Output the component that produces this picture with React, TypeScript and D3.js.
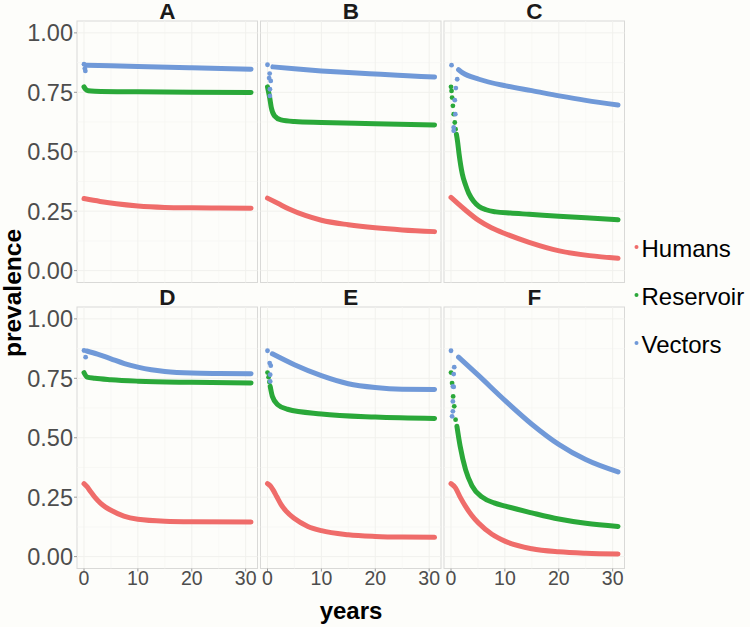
import React from "react";
import * as d3 from "d3";

type P = [number, number];

const panelLabels = ["A", "B", "C", "D", "E", "F"];
const seriesNames = ["Humans", "Reservoir", "Vectors"];
const seriesColors = ["#EF6C6A", "#2AA839", "#7099D8"];
const yTicks = [0, 0.25, 0.5, 0.75, 1];
const yTickLabels = ["0.00", "0.25", "0.50", "0.75", "1.00"];
const yMinor = [0.125, 0.375, 0.625, 0.875];
const xTicks = [0, 10, 20, 30];
const xMinor = [5, 15, 25];

// Panel A
const humansA: P[] = [[0, 0.303], [3, 0.291], [6, 0.281], [10, 0.272], [15, 0.266], [20, 0.264], [25, 0.263], [31, 0.262]];
const reservoirA: P[] = [[0, 0.773], [0.3, 0.763], [0.8, 0.757], [2, 0.755], [10, 0.752], [20, 0.75], [31, 0.749]];
const reservoirADots: P[] = [];
const vectorsA: P[] = [[0.4, 0.864], [5, 0.862], [10, 0.859], [20, 0.853], [31, 0.847]];
const vectorsADots: P[] = [[0, 0.868], [0.15, 0.85], [0.25, 0.84]];

// Panel B
const humansB: P[] = [[0, 0.305], [2, 0.282], [4, 0.259], [7, 0.232], [10, 0.212], [15, 0.193], [20, 0.18], [25, 0.171], [31, 0.164]];
const reservoirB: P[] = [[0, 0.773], [0.4, 0.728], [0.7, 0.686], [1.3, 0.651], [2.5, 0.634], [5, 0.627], [10, 0.623], [20, 0.618], [31, 0.613]];
const reservoirBDots: P[] = [];
const vectorsB: P[] = [[1.0, 0.857], [5, 0.849], [10, 0.84], [15, 0.833], [21, 0.826], [26, 0.82], [31, 0.814]];
const vectorsBDots: P[] = [[0, 0.866], [0.4, 0.829], [0.3, 0.81], [0.6, 0.798], [0.45, 0.763], [0.45, 0.735]];

// Panel C
const humansC: P[] = [[0, 0.308], [2.5, 0.258], [5.2, 0.21], [7.5, 0.18], [10.2, 0.154], [14.5, 0.119], [20.1, 0.083], [25.7, 0.063], [31, 0.052]];
const reservoirC: P[] = [[1.0, 0.574], [1.2, 0.546], [1.5, 0.49], [2.1, 0.406], [2.7, 0.36], [3.3, 0.325], [4.2, 0.292], [5.2, 0.27], [6.5, 0.256], [8.3, 0.247], [11, 0.242], [14.5, 0.237], [20, 0.229], [25, 0.222], [31, 0.214]];
const reservoirCDots: P[] = [[0, 0.773], [0.1, 0.756], [0.2, 0.728], [0.35, 0.693], [0.5, 0.658], [0.7, 0.623], [0.85, 0.595]];
const vectorsC: P[] = [[1.4, 0.845], [2.1, 0.833], [5.2, 0.805], [10.2, 0.777], [15, 0.757], [20.1, 0.735], [25, 0.716], [31, 0.697]];
const vectorsCDots: P[] = [[0.1, 0.864], [1.15, 0.805], [0.9, 0.768], [0.7, 0.717], [0.8, 0.658], [0.5, 0.602], [0.5, 0.588]];

// Panel D
const humansD: P[] = [[0, 0.307], [0.6, 0.293], [1.2, 0.274], [2, 0.25], [3.1, 0.224], [4, 0.208], [5, 0.195], [7.4, 0.17], [10, 0.157], [15, 0.149], [20, 0.147], [31, 0.146]];
const reservoirD: P[] = [[0, 0.774], [0.6, 0.755], [2, 0.75], [5, 0.744], [10, 0.738], [20, 0.733], [31, 0.73]];
const reservoirDDots: P[] = [];
const vectorsD: P[] = [[0.5, 0.865], [2.5, 0.852], [5, 0.832], [7.5, 0.812], [10, 0.797], [12.5, 0.786], [15, 0.779], [20, 0.772], [25, 0.77], [31, 0.769]];
const vectorsDDots: P[] = [[0, 0.867], [0.3, 0.839]];

// Panel E
const humansE: P[] = [[0, 0.307], [0.5, 0.298], [1, 0.282], [1.7, 0.253], [2.5, 0.22], [3.5, 0.19], [5, 0.16], [7.5, 0.127], [10, 0.109], [15, 0.092], [20, 0.085], [25, 0.082], [31, 0.081]];
const reservoirE: P[] = [[0.5, 0.716], [0.9, 0.674], [1.9, 0.639], [3.7, 0.62], [10, 0.6], [20, 0.587], [31, 0.581]];
const reservoirEDots: P[] = [[0, 0.774], [0.2, 0.755], [0.35, 0.735]];
const vectorsE: P[] = [[0.9, 0.853], [5, 0.807], [10, 0.761], [15, 0.727], [20, 0.711], [25, 0.704], [31, 0.703]];
const vectorsEDots: P[] = [[0, 0.866], [0.4, 0.814], [0.6, 0.803], [0.5, 0.765], [0.5, 0.737]];

// Panel F
const humansF: P[] = [[0, 0.307], [0.8, 0.29], [1.7, 0.25], [2.7, 0.211], [3.8, 0.175], [5.1, 0.141], [7.6, 0.094], [10.1, 0.064], [15, 0.033], [20, 0.02], [25, 0.014], [31, 0.011]];
const reservoirF: P[] = [[1.1, 0.548], [1.7, 0.464], [2.7, 0.366], [3.9, 0.298], [5.8, 0.25], [8, 0.226], [10.1, 0.212], [15, 0.184], [20, 0.158], [25, 0.14], [31, 0.127]];
const reservoirFDots: P[] = [[0, 0.774], [0.2, 0.73], [0.4, 0.674], [0.6, 0.632], [0.85, 0.576]];
const vectorsF: P[] = [[1.4, 0.839], [5.1, 0.762], [10.1, 0.655], [15, 0.557], [20, 0.472], [25, 0.408], [31, 0.356]];
const vectorsFDots: P[] = [[0, 0.866], [0.6, 0.797], [0.5, 0.768], [0.35, 0.716], [0.5, 0.714], [0.35, 0.653], [0.35, 0.611], [0.2, 0.59]];

const lines = [
  [humansA, reservoirA, vectorsA],
  [humansB, reservoirB, vectorsB],
  [humansC, reservoirC, vectorsC],
  [humansD, reservoirD, vectorsD],
  [humansE, reservoirE, vectorsE],
  [humansF, reservoirF, vectorsF],
];
const dots = [
  [[], reservoirADots, vectorsADots],
  [[], reservoirBDots, vectorsBDots],
  [[], reservoirCDots, vectorsCDots],
  [[], reservoirDDots, vectorsDDots],
  [[], reservoirEDots, vectorsEDots],
  [[], reservoirFDots, vectorsFDots],
] as P[][][];

const W = 750;
const H = 627;
const panelW = 180.5;
const panelH = 261.5;
const colLeft = [77, 260.5, 444];
const rowTop = [21, 307];
const FONT = "'Liberation Sans', Arial, Helvetica, sans-serif";

export default function App() {
  const panels = panelLabels.map((label, i) => {
    const col = i % 3;
    const row = Math.floor(i / 3);
    const left = colLeft[col];
    const top = rowTop[row];
    const x = d3.scaleLinear().domain([-1.3, 32.2]).range([left, left + panelW]);
    const y = d3.scaleLinear().domain([-0.05, 1.05]).range([top + panelH, top]);
    const line = d3
      .line<P>()
      .x((d) => x(d[0]))
      .y((d) => y(d[1]))
      .curve(d3.curveMonotoneX);
    return (
      <g key={label}>
        <rect x={left} y={top} width={panelW} height={panelH} fill="#FDFDFA" stroke="#D9D9D7" strokeWidth={1} />
        {yMinor.map((v) => (
          <line key={"ym" + v} x1={left} x2={left + panelW} y1={y(v)} y2={y(v)} stroke="#F7F7F3" strokeWidth={0.7} />
        ))}
        {xMinor.map((v) => (
          <line key={"xm" + v} x1={x(v)} x2={x(v)} y1={top} y2={top + panelH} stroke="#F7F7F3" strokeWidth={0.7} />
        ))}
        {yTicks.map((v) => (
          <line key={"yg" + v} x1={left} x2={left + panelW} y1={y(v)} y2={y(v)} stroke="#F1F1ED" strokeWidth={1} />
        ))}
        {xTicks.map((v) => (
          <line key={"xg" + v} x1={x(v)} x2={x(v)} y1={top} y2={top + panelH} stroke="#F1F1ED" strokeWidth={1} />
        ))}
        {lines[i].map((data, s) => (
          <path
            key={"l" + s}
            d={line(data) || ""}
            fill="none"
            stroke={seriesColors[s]}
            strokeWidth={5}
            strokeLinecap="round"
            strokeLinejoin="round"
          />
        ))}
        {dots[i].map((data, s) =>
          data.map((d, k) => (
            <circle key={"d" + s + "-" + k} cx={x(d[0])} cy={y(d[1])} r={2.4} fill={seriesColors[s]} />
          ))
        )}
        <text
          x={left + panelW / 2}
          y={row === 0 ? 18.5 : 304.5}
          textAnchor="middle"
          fontFamily={FONT}
          fontWeight="bold"
          fontSize={22.5}
          fill="#1A1A1A"
        >
          {label}
        </text>
        {col === 0 &&
          yTicks.map((v, k) => (
            <g key={"yt" + v}>
              <line x1={left - 3} x2={left} y1={y(v)} y2={y(v)} stroke="#9A9A9A" strokeWidth={1} />
              <text
                x={left - 4}
                y={y(v)}
                dy="0.36em"
                textAnchor="end"
                fontFamily={FONT}
                fontSize={23.5}
                fill="#4D4D4D"
              >
                {yTickLabels[k]}
              </text>
            </g>
          ))}
        {row === 1 &&
          xTicks.map((v) => (
            <g key={"xt" + v}>
              <line x1={x(v)} x2={x(v)} y1={top + panelH} y2={top + panelH + 3} stroke="#9A9A9A" strokeWidth={1} />
              <text
                x={x(v)}
                y={585}
                textAnchor="middle"
                fontFamily={FONT}
                fontSize={19.5}
                fill="#4D4D4D"
              >
                {v}
              </text>
            </g>
          ))}
      </g>
    );
  });

  const legendY = [247, 295, 343];

  return (
    <svg
      width={W}
      height={H}
      viewBox={`0 0 ${W} ${H}`}
      style={{ position: "absolute", left: 0, top: 0, display: "block" }}
    >
      <rect x={0} y={0} width={W} height={H} fill="#FDFDFA" />
      {panels}
      <text x={351} y={619} textAnchor="middle" fontFamily={FONT} fontWeight="bold" fontSize={24} fill="#000">
        years
      </text>
      <text
        transform={`translate(21,293) rotate(-90)`}
        textAnchor="middle"
        fontFamily={FONT}
        fontWeight="bold"
        fontSize={24.5}
        fill="#000"
      >
        prevalence
      </text>
      {seriesNames.map((name, s) => (
        <g key={name}>
          <circle cx={636.5} cy={legendY[s]} r={2} fill={seriesColors[s]} />
          <text x={641.5} y={legendY[s] + 9.5} fontFamily={FONT} fontSize={24} fill="#000">
            {name}
          </text>
        </g>
      ))}
    </svg>
  );
}
